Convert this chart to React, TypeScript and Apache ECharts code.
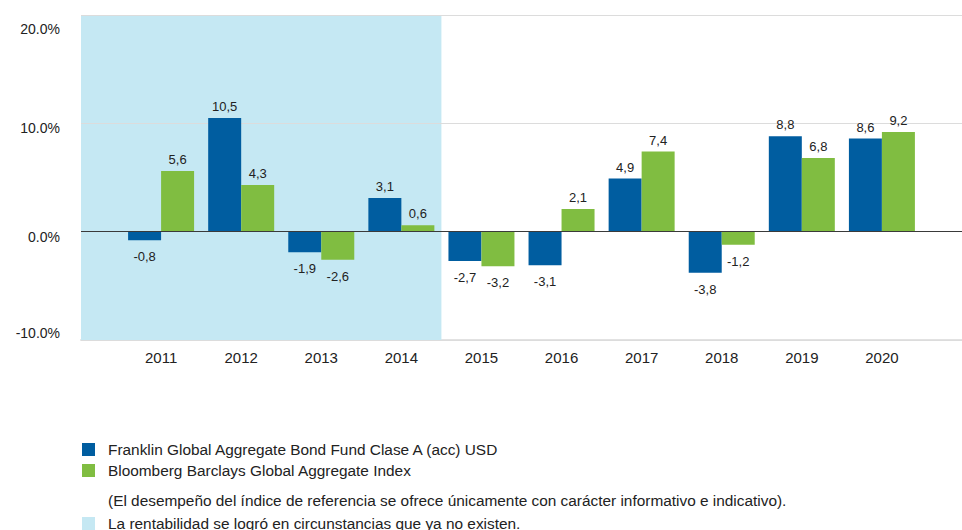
import React, { useEffect, useRef } from "react";
import * as echarts from "echarts";

const years = [2011, 2012, 2013, 2014, 2015, 2016, 2017, 2018, 2019, 2020];
const fundValues = [-0.8, 10.5, -1.9, 3.1, -2.7, -3.1, 4.9, -3.8, 8.8, 8.6];
const indexValues = [5.6, 4.3, -2.6, 0.6, -3.2, 2.1, 7.4, -1.2, 6.8, 9.2];
const yTicks = [-10, 0, 10, 20];
const lastPastYear = 2014;

const fundName = "Franklin Global Aggregate Bond Fund Clase A (acc) USD";
const indexName = "Bloomberg Barclays Global Aggregate Index";
const pastName = "La rentabilidad se logró en circunstancias que ya no existen.";
const noteText =
  "(El desempeño del índice de referencia se ofrece únicamente con carácter informativo e indicativo).";

const BLUE = "#005DA0";
const GREEN = "#80BD41";
const SHADE = "#C5E8F3";
const TXT = "#222222";
const FONT = "'Liberation Sans', Arial, sans-serif";
const LEG_SIZE = 15.4;

function toItems(vals: number[]) {
  return vals.map((v, i) => ({
    value: [years[i], v],
    label: {
      position: v < 0 ? "bottom" : "top",
      distance: v < 0 ? 10 : 5,
    },
  }));
}

const labelFmt = (p: any) => Number(p.value[1]).toFixed(1).replace(".", ",");

function yLabel(v: number) {
  const t = v.toFixed(1) + "%";
  if (v === yTicks[yTicks.length - 1]) return `{hi|${t}}`;
  if (v === yTicks[0]) return `{lo|${t}}`;
  return `{mid|${t}}`;
}

export default function App() {
  const ref = useRef<HTMLDivElement>(null);
  useEffect(() => {
    if (!ref.current) return;
    const chart = echarts.init(ref.current, null, { renderer: "svg" });
    const xMin = years[0] - 1;
    const xMax = years[years.length - 1] + 1;
    const yRich = {
      hi: { color: TXT, fontSize: 14, fontFamily: FONT, padding: [28, 0, 0, 0] },
      mid: { color: TXT, fontSize: 14, fontFamily: FONT, padding: [10, 0, 0, 0] },
      lo: { color: TXT, fontSize: 14, fontFamily: FONT, padding: [0, 0, 14, 0] },
    };
    chart.setOption({
      animation: false,
      textStyle: { fontFamily: FONT },
      grid: { left: 81, right: 0, top: 15, bottom: 190, containLabel: false },
      xAxis: {
        type: "value",
        min: xMin,
        max: xMax,
        interval: 1,
        axisTick: { show: false },
        splitLine: { show: false },
        axisLine: { onZero: false, lineStyle: { color: "#e2e2e2", width: 2 } },
        axisLabel: {
          color: TXT,
          fontSize: 15,
          fontFamily: FONT,
          margin: 10,
          showMinLabel: false,
          showMaxLabel: false,
          formatter: (v: number) => (years.includes(v) ? String(v) : ""),
        },
      },
      yAxis: {
        type: "value",
        min: yTicks[0],
        max: yTicks[yTicks.length - 1],
        interval: 10,
        z: 1.5,
        axisLine: { show: false },
        axisTick: { show: false },
        splitLine: { lineStyle: { color: "#dcdcdc", width: 1 } },
        axisLabel: {
          color: TXT,
          fontSize: 14,
          fontFamily: FONT,
          margin: 21,
          formatter: yLabel,
          rich: yRich,
        },
      },
      legend: [
        {
          orient: "vertical",
          left: 82,
          top: 442,
          padding: 0,
          itemWidth: 13,
          itemHeight: 13,
          itemGap: 6,
          icon: "rect",
          data: [fundName, indexName],
          textStyle: { color: TXT, fontSize: LEG_SIZE, fontFamily: FONT, padding: [0, 0, 0, 8] },
          selectedMode: false,
        },
        {
          orient: "vertical",
          left: 82,
          top: 516,
          padding: 0,
          itemWidth: 13,
          itemHeight: 13,
          icon: "rect",
          data: [pastName],
          textStyle: { color: TXT, fontSize: LEG_SIZE, fontFamily: FONT, padding: [0, 0, 0, 8] },
          selectedMode: false,
        },
      ],
      graphic: [
        {
          type: "text",
          left: 108,
          top: 493,
          style: { text: noteText, fill: TXT, font: `${LEG_SIZE}px ${FONT}` },
        },
      ],
      series: [
        {
          name: fundName,
          type: "bar",
          barWidth: 33,
          barGap: "0%",
          itemStyle: { color: BLUE },
          data: toItems(fundValues),
          label: { show: true, color: TXT, fontSize: 13, fontFamily: FONT, formatter: labelFmt },
          markArea: {
            silent: true,
            itemStyle: { color: SHADE },
            data: [[{ xAxis: xMin }, { xAxis: lastPastYear + 0.5 }]],
          },
          markLine: {
            silent: true,
            symbol: "none",
            label: { show: false },
            lineStyle: { color: "#3a3a3a", width: 1, type: "solid" },
            data: [{ yAxis: 0 }],
          },
        },
        {
          name: indexName,
          type: "bar",
          barWidth: 33,
          barGap: "0%",
          itemStyle: { color: GREEN },
          data: toItems(indexValues),
          label: { show: true, color: TXT, fontSize: 13, fontFamily: FONT, formatter: labelFmt },
        },
        {
          name: pastName,
          type: "line",
          data: [],
          color: SHADE,
          itemStyle: { color: SHADE },
          lineStyle: { color: SHADE },
        },
      ],
    });
    return () => chart.dispose();
  }, []);
  return (
    <div
      ref={ref}
      style={{ position: "fixed", left: 0, top: 0, width: 962, height: 530, background: "#fff" }}
    />
  );
}
